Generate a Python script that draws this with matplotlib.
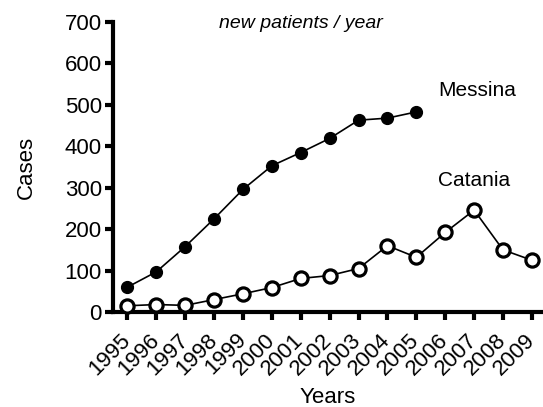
import matplotlib
matplotlib.use("Agg")
import matplotlib.pyplot as plt

# data
years = list(range(1995, 2010))
messina_years = list(range(1995, 2006))
messina = [60, 97, 158, 225, 296, 353, 385, 419, 463, 468, 483]
catania = [15, 18, 16, 30, 44, 59, 81, 88, 105, 160, 132, 192, 246, 150, 125]
yticks = [0, 100, 200, 300, 400, 500, 600, 700]

plt.rcParams['font.family'] = ['Liberation Sans', 'DejaVu Sans']

fig = plt.figure(figsize=(5.43, 4.07), dpi=100)
ax = fig.add_axes([113 / 543, 95 / 407, 429 / 543, 290 / 407])

ax.plot(messina_years, messina, color='black', lw=1.2, marker='o', ms=8.5,
        mfc='black', mec='black', clip_on=False, zorder=3)
ax.plot(years, catania, color='black', lw=1.2, marker='o', ms=9.5,
        mfc='white', mec='black', mew=2.3, clip_on=False, zorder=3)

ax.set_xlim(1994.5, 2009.35)
ax.set_ylim(0, 700)
ax.set_xticks(years)
ax.set_xticklabels([])
# year labels placed by hand so the rotated text ends right under each tick
for y in years:
    ax.annotate(str(y), xy=(y, 0), xycoords=('data', 'axes fraction'),
                xytext=(-5.5, -12.5), textcoords='offset points',
                rotation=45, ha='right', va='top', rotation_mode='anchor',
                fontsize=16, annotation_clip=False)
ax.set_yticks(yticks)
ax.set_yticklabels([str(v) for v in yticks], fontsize=16)

for s in ['top', 'right']:
    ax.spines[s].set_visible(False)
for s in ['left', 'bottom']:
    ax.spines[s].set_linewidth(3)
ax.tick_params(width=3, length=6, pad=2)

ax.set_xlabel('Years', fontsize=16)
ax.xaxis.set_label_coords(0.5, -0.26)
ax.set_ylabel('Cases', fontsize=16, labelpad=20)

ax.text(2001.0, 697, 'new patients / year', style='italic', fontsize=14,
        ha='center', va='center')
ax.text(2005.75, 535, 'Messina', fontsize=15, ha='left', va='center')
ax.text(2005.75, 318, 'Catania', fontsize=15, ha='left', va='center')

fig.savefig('out.png', dpi=100)
